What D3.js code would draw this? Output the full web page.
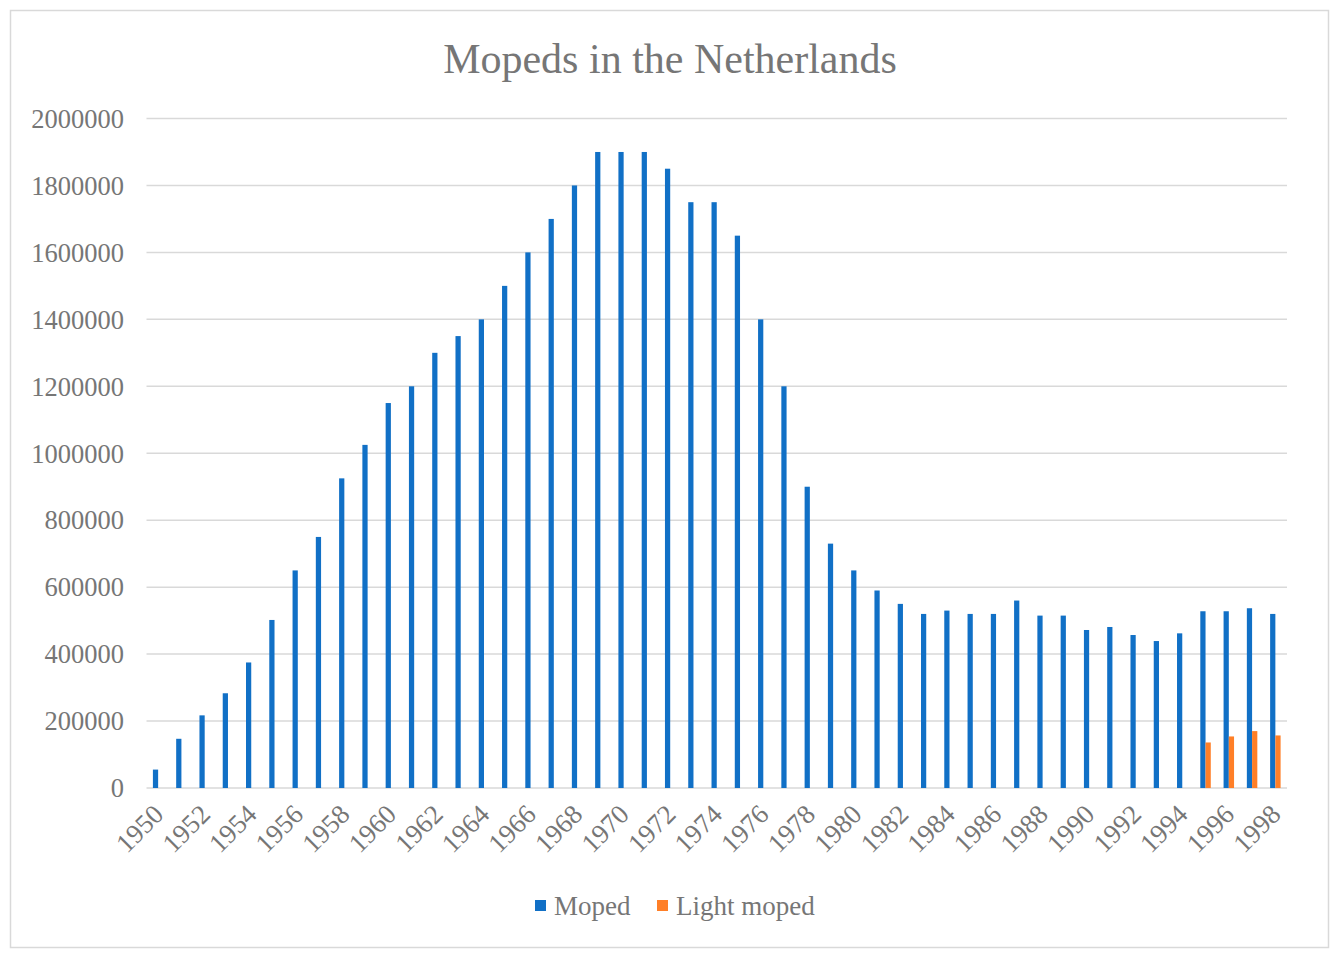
<!DOCTYPE html>
<html>
<head>
<meta charset="utf-8">
<script src="https://cdn.jsdelivr.net/npm/d3@7"></script>
<style>
  body { margin: 0; background: #fff; }
  text { font-family: "Liberation Serif", "Times New Roman", serif; fill: #767676; }
</style>
</head>
<body>
<div id="chart"></div>
<script>
// data
const years = d3.range(1950, 1999).map(String)
const seriesNames = ['Moped', 'Light moped']
const moped = [55000, 147000, 217000, 283000, 375000, 502000, 650000, 750000, 925000, 1025000,
  1150000, 1200000, 1300000, 1350000, 1400000, 1500000, 1600000, 1700000, 1800000, 1900000,
  1900000, 1900000, 1850000, 1750000, 1750000, 1650000, 1400000, 1200000, 900000, 730000,
  650000, 590000, 550000, 520000, 530000, 520000, 520000, 560000, 515000, 515000,
  472000, 481000, 457000, 439000, 462000, 528000, 528000, 537000, 520000]
const lightMoped = [null, null, null, null, null, null, null, null, null, null,
  null, null, null, null, null, null, null, null, null, null,
  null, null, null, null, null, null, null, null, null, null,
  null, null, null, null, null, null, null, null, null, null,
  null, null, null, null, null, 136000, 154000, 170000, 157000]
const yTicks = [0, 200000, 400000, 600000, 800000, 1000000, 1200000, 1400000, 1600000, 1800000, 2000000]
const colors = ['#1170c6', '#ff7f27']

const W = 1339, H = 959
const margin = {left: 146.5, right: 52, top: 118.5, bottom: 171}

const svg = d3.select('#chart').append('svg')
  .attr('width', W).attr('height', H)

// chart border
svg.append('rect')
  .attr('x', 10.5).attr('y', 10.5)
  .attr('width', 1318).attr('height', 937)
  .attr('fill', '#fff').attr('stroke', '#d9d9d9').attr('stroke-width', 1.5)

svg.append('text')
  .attr('x', 670).attr('y', 73)
  .attr('text-anchor', 'middle')
  .style('font-size', '42px')
  .text('Mopeds in the Netherlands')

const x = d3.scaleBand()
  .domain(years)
  .range([margin.left, W - margin.right])
  .paddingInner(0.55)
  .paddingOuter(0.275)

const x1 = d3.scaleBand()
  .domain(seriesNames)
  .range([0, x.bandwidth()])

const y = d3.scaleLinear()
  .domain([0, 2000000])
  .range([H - margin.bottom, margin.top])

// gridlines
svg.append('g')
  .selectAll('line')
  .data(yTicks)
  .join('line')
  .attr('x1', margin.left).attr('x2', W - margin.right)
  .attr('y1', d => y(d)).attr('y2', d => y(d))
  .attr('stroke', '#d9d9d9').attr('stroke-width', 1.5)

// y labels
svg.append('g')
  .selectAll('text')
  .data(yTicks)
  .join('text')
  .attr('x', 124).attr('y', d => y(d))
  .attr('dy', '0.35em')
  .attr('text-anchor', 'end')
  .style('font-size', '26.5px')
  .text(d => d)

// bars
const rows = years.map((yr, i) => ({year: yr, vals: [moped[i], lightMoped[i]]}))

const groups = svg.append('g')
  .selectAll('g')
  .data(rows)
  .join('g')
  .attr('transform', d => 'translate(' + x(d.year) + ',0)')

groups.selectAll('rect')
  .data(d => d.vals.map((v, k) => ({name: seriesNames[k], v: v, k: k})).filter(e => e.v != null))
  .join('rect')
  .attr('x', d => x1(d.name))
  .attr('width', x1.bandwidth())
  .attr('y', d => y(d.v))
  .attr('height', d => y(0) - y(d.v))
  .attr('fill', d => colors[d.k])

// x labels, every second year
svg.append('g')
  .selectAll('text')
  .data(years.filter((d, i) => i % 2 === 0))
  .join('text')
  .attr('transform', d => 'translate(' + (x(d) + x.bandwidth() / 2 + 7) + ',' + (y(0) + 28) + ') rotate(-45)')
  .attr('text-anchor', 'end')
  .style('font-size', '27px')
  .text(d => d)

// legend
const legend = svg.append('g').attr('transform', 'translate(535,906)')
const lg = legend.selectAll('g')
  .data(seriesNames)
  .join('g')
  .attr('transform', (d, i) => 'translate(' + (i === 0 ? 0 : 122) + ',0)')
lg.append('rect')
  .attr('x', 0).attr('y', -6).attr('width', 11).attr('height', 11)
  .attr('fill', (d, i) => colors[i])
lg.append('text')
  .attr('x', 19).attr('dy', '0.35em')
  .style('font-size', '27px')
  .text(d => d)
</script>
</body>
</html>
